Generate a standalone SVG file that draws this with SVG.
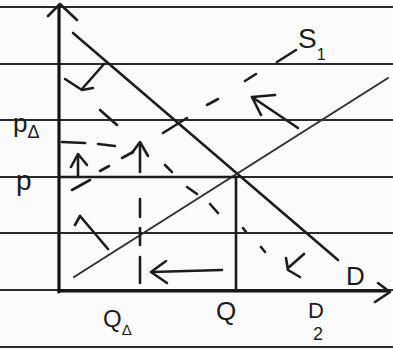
<svg xmlns="http://www.w3.org/2000/svg" width="393" height="349" viewBox="0 0 393 349">
<style>
.rule{stroke:#2a2a2a;stroke-width:2.2;fill:none}
.ink{stroke:#1c1c1c;stroke-width:2.6;fill:none;stroke-linecap:round;stroke-linejoin:round}
.axis{stroke:#151515;stroke-width:3.2;fill:none;stroke-linecap:round;stroke-linejoin:round}
.thin{stroke:#303030;stroke-width:2;fill:none;stroke-linecap:round}
.lbl{font-family:"Liberation Sans",Arial,sans-serif;fill:#1c1c1c}
</style>
<rect width="393" height="349" fill="#fbfbfb"/>
<g id="ruled-paper">
<line class="rule" x1="0" y1="7" x2="393" y2="7"/>
<line class="rule" x1="0" y1="64" x2="393" y2="64"/>
<line class="rule" x1="0" y1="120" x2="393" y2="120"/>
<line class="rule" x1="0" y1="177" x2="393" y2="177"/>
<line class="rule" x1="0" y1="233" x2="393" y2="233"/>
<line class="rule" x1="0" y1="290" x2="393" y2="290"/>
<line class="rule" x1="0" y1="347" x2="393" y2="347"/>
</g>
<g id="axes">
<line class="axis" x1="59" y1="5" x2="59" y2="292"/>
<polyline class="ink" points="48,16 60,4 77,20"/>
<line class="axis" x1="59" y1="291" x2="389" y2="291"/>
<polyline class="ink" points="378,283 390,292 375,302"/>
</g>
<g id="connectors">
<line id="D" class="ink" x1="73" y1="33" x2="338" y2="260"/>
<line id="S" class="thin" x1="74" y1="277" x2="388" y2="78"/>
<path id="S1" class="ink" d="M72,190 L90,180 M100,171 L109,166 M122,158 L133,152 M163,133 L187,118 M207,105 L218,99 M245,81 L256,74 M277,62 L296,50"/>
<path id="D2" class="ink" d="M100,110 L117,125 M165,165 L172,172 M187,187 L197,194 M210,204 L218,213 M243,228 L246,232 M261,247 L265,252"/>
<line id="P-line" class="ink" x1="60" y1="177" x2="236" y2="177"/>
<line id="Q-line" class="ink" x1="236" y1="177" x2="236" y2="290"/>
<path id="PΔ-line" class="ink" d="M62,142 L85,143 M98,144 L115,146"/>
<path id="QΔ-line" class="ink" d="M140,199 L140,217 M140,228 L140,245 M140,257 L140,283"/>
<g id="arrow-D-shift">
<line class="ink" x1="104" y1="64" x2="82" y2="89"/>
<polyline class="ink" points="65,79 82,90 93,88"/>
</g>
<g id="arrow-S-shift">
<line class="ink" x1="298" y1="128" x2="252" y2="97"/>
<polyline class="ink" points="261,115 252,97 275,95"/>
</g>
<g id="arrow-D2">
<line class="ink" x1="304" y1="254" x2="288" y2="268"/>
<polyline class="ink" points="286,258 288,270 300,277"/>
</g>
<g id="arrow-up-left">
<line class="ink" x1="78" y1="177" x2="78" y2="155"/>
<polyline class="ink" points="71,167 78,154 87,165"/>
</g>
<g id="arrow-up-mid">
<line class="ink" x1="140" y1="172" x2="140" y2="143"/>
<polyline class="ink" points="132,153 140,142 148,156"/>
</g>
<g id="arrow-diag">
<line class="ink" x1="108" y1="249" x2="80" y2="216"/>
<line class="ink" x1="80" y1="216" x2="75" y2="225"/>
</g>
<g id="arrow-left">
<line class="ink" x1="222" y1="270" x2="152" y2="272"/>
<polyline class="ink" points="166,261 151,272 167,283"/>
</g>
</g>
<g id="labels">
<text class="lbl" x="13" y="132" font-size="26">p<tspan font-size="18" dy="6">Δ</tspan></text>
<text class="lbl" x="16" y="190" font-size="28">p</text>
<text class="lbl" x="298" y="48" font-size="28">S<tspan font-size="16" dy="12">1</tspan></text>
<text class="lbl" x="346" y="285" font-size="26">D</text>
<text class="lbl" x="103" y="327" font-size="24">Q<tspan font-size="15" dy="8">Δ</tspan></text>
<text class="lbl" x="216" y="320" font-size="26">Q</text>
<text class="lbl" x="308" y="318" font-size="22">D<tspan font-size="18" dy="22" dx="-11">2</tspan></text>
</g>
</svg>
